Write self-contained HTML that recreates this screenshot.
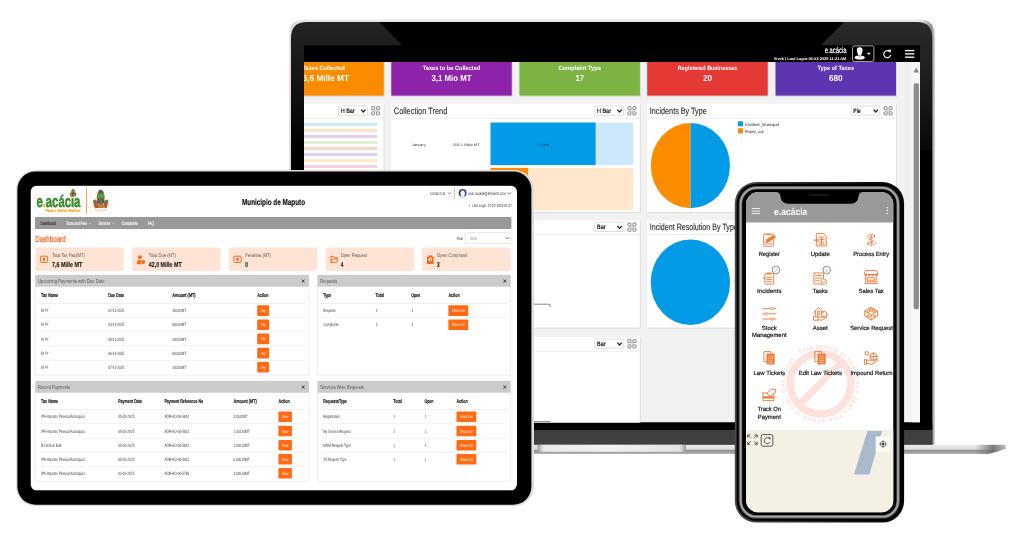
<!DOCTYPE html>
<html lang="en"><head><meta charset="utf-8"><title>e.acácia – devices</title>
<style>html,body{margin:0;padding:0;background:#fff;}body{width:1024px;height:536px;overflow:hidden;}svg{display:block;font-family:'Liberation Sans', sans-serif;text-rendering:geometricPrecision;}</style>
</head><body>
<svg width="1024" height="536" viewBox="0 0 1024 536">
<defs>
<linearGradient id="baseG" x1="0" y1="0" x2="0" y2="1"><stop offset="0" stop-color="#ededed"/><stop offset="0.5" stop-color="#dcdcdc"/><stop offset="0.56" stop-color="#8c8c8c"/><stop offset="1" stop-color="#b4b4b4"/></linearGradient>
<linearGradient id="baseEnd" x1="0" y1="0" x2="1" y2="0"><stop offset="0" stop-color="#6e6e6e" stop-opacity="0"/><stop offset="0.6" stop-color="#6e6e6e" stop-opacity="0.9"/><stop offset="1" stop-color="#9a9a9a" stop-opacity="0.6"/></linearGradient>
<linearGradient id="notchG" x1="0" y1="0" x2="1" y2="0"><stop offset="0" stop-color="#9c9c9c"/><stop offset="0.04" stop-color="#e9e9e9"/><stop offset="0.5" stop-color="#f3f3f3"/><stop offset="0.96" stop-color="#e2e2e2"/><stop offset="1" stop-color="#9c9c9c"/></linearGradient>
<linearGradient id="lidG" gradientUnits="userSpaceOnUse" x1="0" y1="22" x2="0" y2="445"><stop offset="0" stop-color="#232323"/><stop offset="0.06" stop-color="#1d1d1d"/><stop offset="0.2" stop-color="#0e0e0e"/><stop offset="0.3" stop-color="#000"/><stop offset="1" stop-color="#000"/></linearGradient><linearGradient id="rimG" gradientUnits="userSpaceOnUse" x1="289" y1="0" x2="935" y2="0"><stop offset="0" stop-color="#e9e9e9"/><stop offset="0.004" stop-color="#d6d6d6"/><stop offset="0.02" stop-color="#e6e6e6"/><stop offset="0.98" stop-color="#e6e6e6"/><stop offset="0.9945" stop-color="#8e8e8e"/><stop offset="1" stop-color="#d2d2d2"/></linearGradient>
<linearGradient id="phG" x1="0" y1="0" x2="1" y2="0"><stop offset="0" stop-color="#4a4a4a"/><stop offset="0.5" stop-color="#222"/><stop offset="1" stop-color="#050505"/></linearGradient>
<clipPath id="lapClip"><rect x="304" y="45" width="616" height="377.5"/></clipPath>
<clipPath id="tabClip"><rect x="30.5" y="185.6" width="486.5" height="305" rx="6.5"/></clipPath>
<clipPath id="phClip"><rect x="746" y="192" width="147.5" height="320.5" rx="12.5"/></clipPath>
</defs>
<g id="laptop">
<path d="M289 453 L289 36 Q289 19.6 305 19.6 L919 19.6 Q934.9 19.6 934.9 36 L934.9 445 L289 445Z" fill="url(#rimG)"/>
<path d="M291 445 L291 38 Q291 22 307 22 L917 22 Q932.3 22 932.3 38 L932.3 445Z" fill="url(#lidG)"/>
<path d="M379 22 L844 22 L821 45 L402 45Z" fill="#000"/>
<path d="M844 22 L917 22 Q932.3 22 932.3 38 L932.3 150 L920 150 L920 45 L821 45Z" fill="#fff" opacity="0.035"/>
<rect x="291.00" y="422.50" width="641.30" height="7.50" fill="#000"/>
<rect x="291.00" y="430.00" width="641.30" height="14.60" fill="#404040"/>
<path d="M218 444.8 L1003 444.8 Q1005.5 444.8 1005.5 447 L1005.5 449 L989 454 L222 454 Q218 454 218 450Z" fill="url(#baseG)"/>
<rect x="975.00" y="444.80" width="30.50" height="9.20" fill="url(#baseEnd)"/>
<path d="M989 454 L1005.5 449 L1005.5 455 L989 455Z" fill="#fff"/>
<path d="M537.5 444.8 L686 444.8 L686 449 Q686 451.8 682 451.8 L541.5 451.8 Q537.5 451.8 537.5 449Z" fill="url(#notchG)"/>
<g clip-path="url(#lapClip)">
<rect x="304.00" y="45.00" width="616.00" height="377.50" fill="#f1f1f1"/>
<rect x="304.00" y="45.00" width="616.00" height="17.00" fill="#000"/>
<rect x="263.85" y="62.00" width="120.80" height="34.80" fill="#d8d8d8"/>
<rect x="263.25" y="62.00" width="120.50" height="33.60" fill="#fb8c00"/>
<text x="323.50" y="69.90" font-size="6.1" fill="#fff" font-weight="bold" text-anchor="middle" textLength="42.50" lengthAdjust="spacingAndGlyphs">Taxes Collected</text>
<text x="323.50" y="80.73" font-size="8.7" fill="#fff" font-weight="bold" text-anchor="middle" textLength="51.00" lengthAdjust="spacingAndGlyphs">46,6 Mille MT</text>
<rect x="391.85" y="62.00" width="120.80" height="34.80" fill="#d8d8d8"/>
<rect x="391.25" y="62.00" width="120.50" height="33.60" fill="#8e24aa"/>
<text x="451.50" y="69.90" font-size="6.1" fill="#fff" font-weight="bold" text-anchor="middle" textLength="57.50" lengthAdjust="spacingAndGlyphs">Taxes to be Collected</text>
<text x="451.50" y="80.73" font-size="8.7" fill="#fff" font-weight="bold" text-anchor="middle" textLength="40.00" lengthAdjust="spacingAndGlyphs">3,1 Mio MT</text>
<rect x="520.00" y="62.00" width="120.80" height="34.80" fill="#d8d8d8"/>
<rect x="519.40" y="62.00" width="120.50" height="33.60" fill="#7cb342"/>
<text x="579.65" y="69.90" font-size="6.1" fill="#fff" font-weight="bold" text-anchor="middle" textLength="42.50" lengthAdjust="spacingAndGlyphs">Complaint Type</text>
<text x="579.65" y="80.73" font-size="8.7" fill="#fff" font-weight="bold" text-anchor="middle" textLength="8.50" lengthAdjust="spacingAndGlyphs">17</text>
<rect x="647.80" y="62.00" width="120.80" height="34.80" fill="#d8d8d8"/>
<rect x="647.20" y="62.00" width="120.50" height="33.60" fill="#e53935"/>
<text x="707.45" y="69.90" font-size="6.1" fill="#fff" font-weight="bold" text-anchor="middle" textLength="59.50" lengthAdjust="spacingAndGlyphs">Registered Businesses</text>
<text x="707.45" y="80.73" font-size="8.7" fill="#fff" font-weight="bold" text-anchor="middle" textLength="9.00" lengthAdjust="spacingAndGlyphs">20</text>
<rect x="776.10" y="62.00" width="120.80" height="34.80" fill="#d8d8d8"/>
<rect x="775.50" y="62.00" width="120.50" height="33.60" fill="#5e35b1"/>
<text x="835.75" y="69.90" font-size="6.1" fill="#fff" font-weight="bold" text-anchor="middle" textLength="36.50" lengthAdjust="spacingAndGlyphs">Type of Taxes</text>
<text x="835.75" y="80.73" font-size="8.7" fill="#fff" font-weight="bold" text-anchor="middle" textLength="13.50" lengthAdjust="spacingAndGlyphs">680</text>
<rect x="263.75" y="104.50" width="120.65" height="108.50" fill="#dcdcdc"/>
<rect x="263.25" y="104.00" width="120.25" height="108.00" fill="#fff"/>
<rect x="263.25" y="117.90" width="120.25" height="0.60" fill="#e3e3e3"/>
<rect x="338.50" y="105.90" width="29.00" height="9.30" fill="#fff" rx="0.8" stroke="#c9c9c9" stroke-width="0.6"/>
<text x="340.70" y="113.02" font-size="6.3" fill="#111" textLength="14.00" lengthAdjust="spacingAndGlyphs" stroke="#111" stroke-width="0.2">H Bar</text>
<path d="M361.10 109.65 L363.30 112.05 L365.50 109.65" fill="none" stroke="#222" stroke-width="1.3"/>
<path d="M374.60 109.70 L376.60 111.90 M376.60 109.70 L374.60 111.90" stroke="#b5b5b5" stroke-width="0.8" fill="none"/>
<rect x="371.60" y="106.70" width="3.0" height="3.0" rx="0.5" fill="none" stroke="#7a7a7a" stroke-width="0.95"/>
<rect x="376.60" y="106.70" width="3.0" height="3.0" rx="0.5" fill="none" stroke="#7a7a7a" stroke-width="0.95"/>
<rect x="371.60" y="111.90" width="3.0" height="3.0" rx="0.5" fill="none" stroke="#7a7a7a" stroke-width="0.95"/>
<rect x="376.60" y="111.90" width="3.0" height="3.0" rx="0.5" fill="none" stroke="#7a7a7a" stroke-width="0.95"/>
<rect x="391.75" y="104.50" width="248.95" height="108.50" fill="#dcdcdc"/>
<rect x="391.25" y="104.00" width="248.55" height="108.00" fill="#fff"/>
<rect x="391.25" y="117.90" width="248.55" height="0.60" fill="#e3e3e3"/>
<text x="393.85" y="114.11" font-size="9.2" fill="#2a2a2a" textLength="53.50" lengthAdjust="spacingAndGlyphs" stroke="#2a2a2a" stroke-width="0.12">Collection Trend</text>
<rect x="594.80" y="105.90" width="29.00" height="9.30" fill="#fff" rx="0.8" stroke="#c9c9c9" stroke-width="0.6"/>
<text x="597.00" y="113.02" font-size="6.3" fill="#111" textLength="14.00" lengthAdjust="spacingAndGlyphs" stroke="#111" stroke-width="0.2">H Bar</text>
<path d="M617.40 109.65 L619.60 112.05 L621.80 109.65" fill="none" stroke="#222" stroke-width="1.3"/>
<path d="M630.90 109.70 L632.90 111.90 M632.90 109.70 L630.90 111.90" stroke="#b5b5b5" stroke-width="0.8" fill="none"/>
<rect x="627.90" y="106.70" width="3.0" height="3.0" rx="0.5" fill="none" stroke="#7a7a7a" stroke-width="0.95"/>
<rect x="632.90" y="106.70" width="3.0" height="3.0" rx="0.5" fill="none" stroke="#7a7a7a" stroke-width="0.95"/>
<rect x="627.90" y="111.90" width="3.0" height="3.0" rx="0.5" fill="none" stroke="#7a7a7a" stroke-width="0.95"/>
<rect x="632.90" y="111.90" width="3.0" height="3.0" rx="0.5" fill="none" stroke="#7a7a7a" stroke-width="0.95"/>
<rect x="647.70" y="104.50" width="249.20" height="108.50" fill="#dcdcdc"/>
<rect x="647.20" y="104.00" width="248.80" height="108.00" fill="#fff"/>
<rect x="647.20" y="117.90" width="248.80" height="0.60" fill="#e3e3e3"/>
<text x="649.80" y="114.11" font-size="9.2" fill="#2a2a2a" textLength="57.00" lengthAdjust="spacingAndGlyphs" stroke="#2a2a2a" stroke-width="0.12">Incidents By Type</text>
<rect x="851.00" y="105.90" width="29.00" height="9.30" fill="#fff" rx="0.8" stroke="#c9c9c9" stroke-width="0.6"/>
<text x="853.20" y="113.02" font-size="6.3" fill="#111" textLength="7.50" lengthAdjust="spacingAndGlyphs" stroke="#111" stroke-width="0.2">Pie</text>
<path d="M873.60 109.65 L875.80 112.05 L878.00 109.65" fill="none" stroke="#222" stroke-width="1.3"/>
<path d="M887.10 109.70 L889.10 111.90 M889.10 109.70 L887.10 111.90" stroke="#b5b5b5" stroke-width="0.8" fill="none"/>
<rect x="884.10" y="106.70" width="3.0" height="3.0" rx="0.5" fill="none" stroke="#7a7a7a" stroke-width="0.95"/>
<rect x="889.10" y="106.70" width="3.0" height="3.0" rx="0.5" fill="none" stroke="#7a7a7a" stroke-width="0.95"/>
<rect x="884.10" y="111.90" width="3.0" height="3.0" rx="0.5" fill="none" stroke="#7a7a7a" stroke-width="0.95"/>
<rect x="889.10" y="111.90" width="3.0" height="3.0" rx="0.5" fill="none" stroke="#7a7a7a" stroke-width="0.95"/>
<rect x="263.75" y="220.80" width="120.65" height="107.80" fill="#dcdcdc"/>
<rect x="263.25" y="220.30" width="120.25" height="107.30" fill="#fff"/>
<rect x="263.25" y="234.20" width="120.25" height="0.60" fill="#e3e3e3"/>
<rect x="391.75" y="220.80" width="248.95" height="107.80" fill="#dcdcdc"/>
<rect x="391.25" y="220.30" width="248.55" height="107.30" fill="#fff"/>
<rect x="391.25" y="234.20" width="248.55" height="0.60" fill="#e3e3e3"/>
<rect x="594.80" y="222.20" width="29.00" height="9.30" fill="#fff" rx="0.8" stroke="#c9c9c9" stroke-width="0.6"/>
<text x="597.00" y="229.32" font-size="6.3" fill="#111" textLength="8.50" lengthAdjust="spacingAndGlyphs" stroke="#111" stroke-width="0.2">Bar</text>
<path d="M617.40 225.95 L619.60 228.35 L621.80 225.95" fill="none" stroke="#222" stroke-width="1.3"/>
<path d="M630.90 226.00 L632.90 228.20 M632.90 226.00 L630.90 228.20" stroke="#b5b5b5" stroke-width="0.8" fill="none"/>
<rect x="627.90" y="223.00" width="3.0" height="3.0" rx="0.5" fill="none" stroke="#7a7a7a" stroke-width="0.95"/>
<rect x="632.90" y="223.00" width="3.0" height="3.0" rx="0.5" fill="none" stroke="#7a7a7a" stroke-width="0.95"/>
<rect x="627.90" y="228.20" width="3.0" height="3.0" rx="0.5" fill="none" stroke="#7a7a7a" stroke-width="0.95"/>
<rect x="632.90" y="228.20" width="3.0" height="3.0" rx="0.5" fill="none" stroke="#7a7a7a" stroke-width="0.95"/>
<rect x="647.70" y="220.80" width="249.20" height="107.80" fill="#dcdcdc"/>
<rect x="647.20" y="220.30" width="248.80" height="107.30" fill="#fff"/>
<rect x="647.20" y="234.20" width="248.80" height="0.60" fill="#e3e3e3"/>
<text x="649.80" y="230.41" font-size="9.2" fill="#2a2a2a" textLength="88.00" lengthAdjust="spacingAndGlyphs" stroke="#2a2a2a" stroke-width="0.12">Incident Resolution By Type</text>
<rect x="391.75" y="337.50" width="248.95" height="103.50" fill="#dcdcdc"/>
<rect x="391.25" y="337.00" width="248.55" height="103.00" fill="#fff"/>
<rect x="391.25" y="350.90" width="248.55" height="0.60" fill="#e3e3e3"/>
<rect x="594.80" y="338.90" width="29.00" height="9.30" fill="#fff" rx="0.8" stroke="#c9c9c9" stroke-width="0.6"/>
<text x="597.00" y="346.02" font-size="6.3" fill="#111" textLength="8.50" lengthAdjust="spacingAndGlyphs" stroke="#111" stroke-width="0.2">Bar</text>
<path d="M617.40 342.65 L619.60 345.05 L621.80 342.65" fill="none" stroke="#222" stroke-width="1.3"/>
<path d="M630.90 342.70 L632.90 344.90 M632.90 342.70 L630.90 344.90" stroke="#b5b5b5" stroke-width="0.8" fill="none"/>
<rect x="627.90" y="339.70" width="3.0" height="3.0" rx="0.5" fill="none" stroke="#7a7a7a" stroke-width="0.95"/>
<rect x="632.90" y="339.70" width="3.0" height="3.0" rx="0.5" fill="none" stroke="#7a7a7a" stroke-width="0.95"/>
<rect x="627.90" y="344.90" width="3.0" height="3.0" rx="0.5" fill="none" stroke="#7a7a7a" stroke-width="0.95"/>
<rect x="632.90" y="344.90" width="3.0" height="3.0" rx="0.5" fill="none" stroke="#7a7a7a" stroke-width="0.95"/>
<rect x="300.00" y="122.80" width="77.30" height="3.10" fill="#cce9fb"/>
<rect x="300.00" y="128.83" width="77.30" height="3.10" fill="#ffe3c8"/>
<rect x="300.00" y="134.86" width="77.30" height="3.10" fill="#e5d2ef"/>
<rect x="300.00" y="140.89" width="77.30" height="3.10" fill="#e1edd6"/>
<rect x="300.00" y="146.92" width="77.30" height="3.10" fill="#f8d6cc"/>
<rect x="300.00" y="152.95" width="77.30" height="3.10" fill="#dccdee"/>
<rect x="300.00" y="158.98" width="77.30" height="3.10" fill="#ffecc6"/>
<rect x="300.00" y="165.01" width="77.30" height="3.10" fill="#f8d3da"/>
<rect x="300.00" y="171.04" width="77.30" height="3.10" fill="#d5ecf3"/>
<text x="418.80" y="145.60" font-size="3.6" fill="#333" text-anchor="middle" textLength="13.50" lengthAdjust="spacingAndGlyphs">January</text>
<text x="466.30" y="145.60" font-size="3.6" fill="#333" text-anchor="middle" textLength="27.00" lengthAdjust="spacingAndGlyphs">258,1 Mille MT</text>
<rect x="490.50" y="122.50" width="105.30" height="42.60" fill="#039be5"/>
<rect x="595.80" y="122.50" width="37.60" height="42.60" fill="#cce9fb"/>
<text x="543.00" y="145.60" font-size="3.6" fill="#1a3a5a" text-anchor="middle" textLength="12.50" lengthAdjust="spacingAndGlyphs">71,48%</text>
<rect x="490.50" y="167.90" width="37.50" height="42.30" fill="#fb8c00"/>
<rect x="528.00" y="167.90" width="105.40" height="42.30" fill="#ffe6cc"/>
<path d="M690.4 123 A39.6 42.6 0 0 1 690.4 208.2Z" fill="#039be5"/>
<path d="M690.4 123 A39.6 42.6 0 0 0 690.4 208.2Z" fill="#fb8c00"/>
<rect x="738.00" y="121.30" width="5.00" height="5.00" fill="#039be5"/>
<text x="745.00" y="125.51" font-size="4.2" fill="#222" textLength="33.70" lengthAdjust="spacingAndGlyphs">Incidnet_Muncipal</text>
<rect x="738.00" y="128.30" width="5.00" height="5.10" fill="#fb8c00"/>
<text x="745.00" y="132.51" font-size="4.2" fill="#222" textLength="18.70" lengthAdjust="spacingAndGlyphs">Power_out</text>
<ellipse cx="690.4" cy="282.3" rx="39.7" ry="42.8" fill="#039be5"/>
<path d="M520 304.2 L550 304.2 L550 307" fill="none" stroke="#555" stroke-width="0.7"/>
<path d="M520 421.6 L550 421.6 L550 423" fill="none" stroke="#555" stroke-width="0.7"/>
<rect x="911.50" y="62.00" width="8.50" height="360.50" fill="#f7f7f7"/>
<path d="M913.3 72.6 L916.2 67.6 L919.1 72.6Z" fill="#8a8a8a"/>
<rect x="913.60" y="83.00" width="5.40" height="226.40" fill="#8e8e8e" rx="2.7"/>
<text x="846.50" y="53.35" font-size="8.2" fill="#fff" text-anchor="end" textLength="21.80" lengthAdjust="spacingAndGlyphs" stroke="#fff" stroke-width="0.18">e.acácia</text>
<text x="846.40" y="59.70" font-size="3.9" fill="#fff" font-weight="bold" text-anchor="end" textLength="72.60" lengthAdjust="spacingAndGlyphs">Vivek | Last Login-06-02-2025 11:21 AM</text>
<rect x="852.50" y="45.90" width="21.40" height="15.60" fill="#000" rx="1.6" stroke="#b4b4b4" stroke-width="0.9"/>
<g fill="#fff"><path d="M859.7 47.2 Q862.8 47.2 862.6 50.6 Q862.4 53.2 860.9 55.2 L860.6 56.4 L858.8 56.4 L858.5 55.2 Q857 53.2 856.8 50.6 Q856.6 47.2 859.7 47.2Z"/><ellipse cx="859.7" cy="57.5" rx="5.1" ry="2"/><path d="M859.7 55 L860.5 55.8 L859.7 57.6 L858.9 55.8Z" fill="#000" opacity="0.55"/><path d="M866.9 52.8 L870.8 52.8 L868.85 55Z"/></g>
<path d="M889.4 51.4 A3.5 3.5 0 1 0 890.7 54.9" fill="none" stroke="#fff" stroke-width="1.15"/><path d="M887.6 49.9 L891 49.6 L890.4 53Z" fill="#fff"/>
<rect x="905.00" y="49.95" width="9.40" height="1.30" fill="#fff"/>
<rect x="905.00" y="53.25" width="9.40" height="1.30" fill="#fff"/>
<rect x="905.00" y="56.55" width="9.40" height="1.30" fill="#fff"/>
</g>
</g>
<g id="tablet">
<rect x="16.00" y="170.00" width="518.00" height="336.30" fill="#dedede" rx="20"/>
<rect x="17.40" y="171.50" width="514.00" height="333.20" fill="#000" rx="18"/>
<g clip-path="url(#tabClip)">
<rect x="30.50" y="185.60" width="486.50" height="305.00" fill="#fff"/>
<rect x="35.60" y="187.80" width="46.00" height="26.00" fill="#fff" rx="0.8" stroke="#e6e6e6" stroke-width="0.5"/>
<text x="36.40" y="207.28" font-size="16.6" fill="#3c8a2e" font-weight="bold" textLength="6.40" lengthAdjust="spacingAndGlyphs" stroke="#3c8a2e" stroke-width="0.55">e</text>
<text x="42.90" y="207.28" font-size="16.6" fill="#f39c12" font-weight="bold" textLength="2.40" lengthAdjust="spacingAndGlyphs" stroke="#f39c12" stroke-width="0.5">.</text>
<text x="45.80" y="207.28" font-size="16.6" fill="#3c8a2e" font-weight="bold" textLength="34.60" lengthAdjust="spacingAndGlyphs" stroke="#3c8a2e" stroke-width="0.55">acácia</text>
<text x="45.40" y="212.08" font-size="4.4" fill="#f39c12" font-weight="bold" textLength="35.00" lengthAdjust="spacingAndGlyphs" stroke="#f39c12" stroke-width="0.15">Para o Servir Melhor</text>
<g><ellipse cx="73.1" cy="192.4" rx="1.9" ry="3.3" fill="#9a6236"/><ellipse cx="73.1" cy="191.4" rx="1.3" ry="1.1" fill="#4aa63c"/><ellipse cx="73.1" cy="193.6" rx="1.2" ry="0.9" fill="#35506e"/><path d="M69.6 193.4 L71.4 192.6 L72 196.8 L70.4 196.4Z M76.6 193.4 L74.8 192.6 L74.2 196.8 L75.8 196.4Z" fill="#b0622a"/><path d="M69.6 193.4 L70.6 192.2 L71.2 193.4Z M76.6 193.4 L75.6 192.2 L75 193.4Z" fill="#4aa63c"/><path d="M70.6 196.6 Q73.1 198.2 75.6 196.6 L75.4 197.4 Q73.1 198.6 70.8 197.4Z" fill="#ecd6c4"/></g>
<rect x="86.00" y="187.20" width="1.00" height="27.00" fill="#f5a94a"/>
<rect x="90.60" y="187.80" width="20.40" height="26.00" fill="#fff" rx="0.8" stroke="#e6e6e6" stroke-width="0.5"/>
<g>
<ellipse cx="100.7" cy="197.6" rx="4" ry="8.2" fill="#a3703f"/>
<ellipse cx="100.7" cy="197.6" rx="3.1" ry="7.2" fill="#8a5a34"/>
<ellipse cx="100.7" cy="191.8" rx="1.5" ry="1.2" fill="#2f5b8c"/>
<path d="M97.8 194.6 Q100.7 192.6 103.6 194.6 L103.8 197.6 Q100.7 198.8 97.6 197.6Z" fill="#46a64a"/>
<path d="M97.7 199.4 L103.7 199.4 L103.9 203 L97.5 203Z" fill="#2d5a94"/>
<path d="M99.6 199.4 L101.8 199.4 L101.8 204.6 L99.6 204.6Z" fill="#9a6a3a"/>
<path d="M92.8 201 L95 199.4 L97.6 201.4 L98.4 207.8 L94.8 208.2Z" fill="#a8612c"/>
<path d="M108.6 201 L106.4 199.4 L103.8 201.4 L103 207.8 L106.6 208.2Z" fill="#a8612c"/>
<path d="M93.2 200.8 L95 199.4 L96.8 200.8 L95.4 202.6Z M108.2 200.8 L106.4 199.4 L104.6 200.8 L106 202.6Z" fill="#3f9a46"/>
<path d="M98.2 204.4 L103.2 204.4 L103.6 208 L97.8 208Z" fill="#b87a48"/>
<circle cx="97.3" cy="207.4" r="0.8" fill="#e0392b"/><circle cx="104.1" cy="207.4" r="0.8" fill="#e0a23a"/>
<circle cx="92.9" cy="206" r="0.8" fill="#b9bcc4"/><circle cx="108.6" cy="206" r="0.8" fill="#b9bcc4"/>
<path d="M94 208.6 Q100.7 210.4 107.4 208.6 L107 210.8 Q100.7 212.8 94.4 210.8Z" fill="#f4dfd0"/>
</g>
<text x="273.50" y="205.40" font-size="8.6" fill="#111" font-weight="bold" text-anchor="middle" textLength="63.00" lengthAdjust="spacingAndGlyphs" stroke="#111" stroke-width="0.2">Municipio de Maputo</text>
<text x="430.20" y="194.89" font-size="4.7" fill="#333" textLength="15.00" lengthAdjust="spacingAndGlyphs">Contact Us</text>
<path d="M448 192.4 L449.3 193.9 L450.6 192.4" fill="none" stroke="#333" stroke-width="0.6"/>
<rect x="454.10" y="187.20" width="0.70" height="11.40" fill="#f5a94a"/>
<circle cx="462.6" cy="193" r="4" fill="#2c4a7c"/><ellipse cx="462.7" cy="193.6" rx="2.2" ry="3.1" fill="#f3f5f8"/><path d="M459.6 197 Q462.6 194.6 465.6 197 L465.6 198 L459.6 198Z" fill="#dfe5ee"/>
<text x="468.00" y="194.86" font-size="4.6" fill="#333" textLength="37.60" lengthAdjust="spacingAndGlyphs">arun.dudule@effiasoft.com</text>
<path d="M507.8 192.4 L509.3 194 L510.8 192.4" fill="none" stroke="#333" stroke-width="0.7"/>
<circle cx="469.6" cy="205.6" r="0.55" fill="#e53935"/>
<text x="472.00" y="207.12" font-size="4.5" fill="#333" textLength="40.00" lengthAdjust="spacingAndGlyphs">Last Login: 07-02-2025 01:37</text>
<rect x="35.00" y="216.90" width="476.40" height="12.20" fill="#999" rx="1.2"/>
<text x="40.50" y="224.86" font-size="4.9" fill="#222" textLength="15.40" lengthAdjust="spacingAndGlyphs" stroke="#222" stroke-width="0.12">Dashboard</text>
<text x="66.00" y="224.86" font-size="4.9" fill="#fff" textLength="21.00" lengthAdjust="spacingAndGlyphs" stroke="#fff" stroke-width="0.14">Taxes and Fees</text>
<path d="M89 222.8 L90 223.9 L91 222.8" fill="none" stroke="#fff" stroke-width="0.45"/>
<text x="98.60" y="224.86" font-size="4.9" fill="#fff" textLength="11.60" lengthAdjust="spacingAndGlyphs" stroke="#fff" stroke-width="0.14">Services</text>
<path d="M112.4 222.8 L113.4 223.9 L114.4 222.8" fill="none" stroke="#fff" stroke-width="0.45"/>
<text x="121.80" y="224.86" font-size="4.9" fill="#fff" textLength="16.20" lengthAdjust="spacingAndGlyphs" stroke="#fff" stroke-width="0.14">Complaints</text>
<text x="147.80" y="224.86" font-size="4.9" fill="#fff" textLength="6.20" lengthAdjust="spacingAndGlyphs" stroke="#fff" stroke-width="0.14">FAQ</text>
<text x="35.30" y="242.37" font-size="8.8" fill="#f26522" textLength="30.30" lengthAdjust="spacingAndGlyphs" stroke="#f26522" stroke-width="0.25">Dashboard</text>
<text x="456.50" y="240.13" font-size="4.8" fill="#333" textLength="6.60" lengthAdjust="spacingAndGlyphs">Year</text>
<rect x="465.30" y="232.40" width="45.30" height="11.20" fill="#fff" rx="1" stroke="#d6d6d6" stroke-width="0.6"/>
<text x="469.80" y="239.98" font-size="4.4" fill="#888" textLength="6.80" lengthAdjust="spacingAndGlyphs">2025</text>
<path d="M505.8 237.4 L507.2 239 L508.6 237.4" fill="none" stroke="#333" stroke-width="0.7"/>
<rect x="35.25" y="247.40" width="88.60" height="23.70" fill="#ffe4d6" rx="2.6"/>
<rect x="40.45" y="256.2" width="7.2" height="6.2" rx="0.8" fill="none" stroke="#f26a1b" stroke-width="1"/><ellipse cx="44.05" cy="259.3" rx="1.3" ry="1.7" fill="#f26a1b"/>
<text x="52.00" y="256.61" font-size="5.3" fill="#555" textLength="32.90" lengthAdjust="spacingAndGlyphs">Total Tax Paid(MT)</text>
<text x="52.00" y="266.69" font-size="7.2" fill="#1a1a1a" font-weight="bold" textLength="30.40" lengthAdjust="spacingAndGlyphs" stroke="#1a1a1a" stroke-width="0.15">7,6 Mille MT</text>
<rect x="132.00" y="247.40" width="88.60" height="23.70" fill="#ffe4d6" rx="2.6"/>
<circle cx="140.00" cy="257.2" r="1.9" fill="#f26a1b"/><path d="M136.80 264.2 Q136.80 259.8 140.00 259.8 Q142.00 259.8 142.60 261 L142.60 264.2Z" fill="#f26a1b"/><circle cx="143.20" cy="262" r="2.5" fill="#ffe4d6"/><circle cx="143.20" cy="262" r="2" fill="#f26a1b"/>
<text x="148.75" y="256.61" font-size="5.3" fill="#555" textLength="27.00" lengthAdjust="spacingAndGlyphs">Total Due (MT)</text>
<text x="148.75" y="266.69" font-size="7.2" fill="#1a1a1a" font-weight="bold" textLength="32.90" lengthAdjust="spacingAndGlyphs" stroke="#1a1a1a" stroke-width="0.15">42,0 Mille MT</text>
<rect x="228.75" y="247.40" width="88.60" height="23.70" fill="#ffe4d6" rx="2.6"/>
<rect x="233.95" y="256.2" width="7.2" height="6.2" rx="0.8" fill="none" stroke="#f26a1b" stroke-width="1"/><ellipse cx="237.55" cy="259.3" rx="1.3" ry="1.7" fill="#f26a1b"/>
<text x="245.35" y="256.61" font-size="5.3" fill="#555" textLength="25.60" lengthAdjust="spacingAndGlyphs">Penalties (MT)</text>
<text x="245.35" y="266.69" font-size="7.2" fill="#1a1a1a" font-weight="bold" textLength="2.60" lengthAdjust="spacingAndGlyphs" stroke="#1a1a1a" stroke-width="0.15">0</text>
<rect x="325.50" y="247.40" width="88.60" height="23.70" fill="#ffe4d6" rx="2.6"/>
<path d="M330.90 256.4 L333.50 256.4 L334.50 257.6 L337.10 257.6 L337.10 258.8 M330.90 256.4 L330.90 262.6 L336.50 262.6 L338.10 258.9 L332.50 258.9 L331.00 262.4" fill="none" stroke="#f26a1b" stroke-width="0.9" stroke-linejoin="round"/>
<text x="340.70" y="256.61" font-size="5.3" fill="#555" textLength="26.20" lengthAdjust="spacingAndGlyphs">Open Request</text>
<text x="340.70" y="266.69" font-size="7.2" fill="#1a1a1a" font-weight="bold" textLength="2.60" lengthAdjust="spacingAndGlyphs" stroke="#1a1a1a" stroke-width="0.15">4</text>
<rect x="422.10" y="247.40" width="88.60" height="23.70" fill="#ffe4d6" rx="2.6"/>
<path d="M427.00 256.4 L428.70 256.4 L429.00 255.2 L431.60 255.2 L431.90 256.4 L433.60 256.4 L433.60 264 L427.00 264Z" fill="#f26a1b"/><circle cx="430.30" cy="259.4" r="1.8" fill="#ffe4d6"/><circle cx="430.30" cy="259.2" r="0.8" fill="#f26a1b"/>
<text x="437.00" y="256.61" font-size="5.3" fill="#555" textLength="30.20" lengthAdjust="spacingAndGlyphs">Open Complaint</text>
<text x="437.00" y="266.69" font-size="7.2" fill="#1a1a1a" font-weight="bold" textLength="2.60" lengthAdjust="spacingAndGlyphs" stroke="#1a1a1a" stroke-width="0.15">3</text>
<rect x="35.25" y="275.10" width="273.75" height="100.10" fill="#fff" rx="1" stroke="#e2e2e2" stroke-width="0.6"/>
<path d="M35.25 286.8 L35.25 276.1 Q35.25 275.1 36.25 275.1 L308 275.1 Q309 275.1 309 276.1 L309 286.8Z" fill="#cbcbcb"/>
<text x="38.05" y="283.15" font-size="5.7" fill="#555" textLength="66.50" lengthAdjust="spacingAndGlyphs">Upcoming Payments with Due Date</text>
<path d="M301.90 279.60 L304.50 282.60 M304.50 279.60 L301.90 282.60" stroke="#2a2a2a" stroke-width="0.85"/>
<text x="41.10" y="297.34" font-size="5.4" fill="#222" font-weight="bold" textLength="17.00" lengthAdjust="spacingAndGlyphs" stroke="#222" stroke-width="0.18">Tax Name</text>
<text x="108.20" y="297.34" font-size="5.4" fill="#222" font-weight="bold" textLength="15.80" lengthAdjust="spacingAndGlyphs" stroke="#222" stroke-width="0.18">Due Date</text>
<text x="172.30" y="297.34" font-size="5.4" fill="#222" font-weight="bold" textLength="23.30" lengthAdjust="spacingAndGlyphs" stroke="#222" stroke-width="0.18">Amount (MT)</text>
<text x="257.20" y="297.34" font-size="5.4" fill="#222" font-weight="bold" textLength="11.20" lengthAdjust="spacingAndGlyphs" stroke="#222" stroke-width="0.18">Action</text>
<rect x="38.40" y="302.95" width="267.60" height="0.50" fill="#dcdcdc"/>
<text x="41.10" y="312.29" font-size="4.7" fill="#3a3a3a" textLength="7.40" lengthAdjust="spacingAndGlyphs">BY FY</text>
<text x="108.20" y="312.29" font-size="4.7" fill="#3a3a3a" textLength="16.20" lengthAdjust="spacingAndGlyphs">02-11-2025</text>
<text x="172.30" y="312.29" font-size="4.7" fill="#3a3a3a" textLength="14.00" lengthAdjust="spacingAndGlyphs">400,00MT</text>
<rect x="257.20" y="305.30" width="11.90" height="10.60" fill="#ff6a13" rx="0.9"/>
<text x="263.15" y="312.18" font-size="4.4" fill="#fff" text-anchor="middle" textLength="4.60" lengthAdjust="spacingAndGlyphs">Pay</text>
<rect x="38.40" y="317.40" width="267.60" height="0.50" fill="#e4e4e4"/>
<text x="41.10" y="326.49" font-size="4.7" fill="#3a3a3a" textLength="7.40" lengthAdjust="spacingAndGlyphs">BY FY</text>
<text x="108.20" y="326.49" font-size="4.7" fill="#3a3a3a" textLength="16.20" lengthAdjust="spacingAndGlyphs">03-11-2025</text>
<text x="172.30" y="326.49" font-size="4.7" fill="#3a3a3a" textLength="14.00" lengthAdjust="spacingAndGlyphs">600,00MT</text>
<rect x="257.20" y="319.50" width="11.90" height="10.60" fill="#ff6a13" rx="0.9"/>
<text x="263.15" y="326.38" font-size="4.4" fill="#fff" text-anchor="middle" textLength="4.60" lengthAdjust="spacingAndGlyphs">Pay</text>
<rect x="38.40" y="331.60" width="267.60" height="0.50" fill="#e4e4e4"/>
<text x="41.10" y="340.59" font-size="4.7" fill="#3a3a3a" textLength="7.40" lengthAdjust="spacingAndGlyphs">BY FY</text>
<text x="108.20" y="340.59" font-size="4.7" fill="#3a3a3a" textLength="16.20" lengthAdjust="spacingAndGlyphs">05-11-2025</text>
<text x="172.30" y="340.59" font-size="4.7" fill="#3a3a3a" textLength="14.00" lengthAdjust="spacingAndGlyphs">400,00MT</text>
<rect x="257.20" y="333.60" width="11.90" height="10.60" fill="#ff6a13" rx="0.9"/>
<text x="263.15" y="340.48" font-size="4.4" fill="#fff" text-anchor="middle" textLength="4.60" lengthAdjust="spacingAndGlyphs">Pay</text>
<rect x="38.40" y="345.70" width="267.60" height="0.50" fill="#e4e4e4"/>
<text x="41.10" y="354.79" font-size="4.7" fill="#3a3a3a" textLength="7.40" lengthAdjust="spacingAndGlyphs">BY FY</text>
<text x="108.20" y="354.79" font-size="4.7" fill="#3a3a3a" textLength="16.20" lengthAdjust="spacingAndGlyphs">06-11-2025</text>
<text x="172.30" y="354.79" font-size="4.7" fill="#3a3a3a" textLength="14.00" lengthAdjust="spacingAndGlyphs">600,00MT</text>
<rect x="257.20" y="347.80" width="11.90" height="10.60" fill="#ff6a13" rx="0.9"/>
<text x="263.15" y="354.68" font-size="4.4" fill="#fff" text-anchor="middle" textLength="4.60" lengthAdjust="spacingAndGlyphs">Pay</text>
<rect x="38.40" y="359.90" width="267.60" height="0.50" fill="#e4e4e4"/>
<text x="41.10" y="368.89" font-size="4.7" fill="#3a3a3a" textLength="7.40" lengthAdjust="spacingAndGlyphs">BY FY</text>
<text x="108.20" y="368.89" font-size="4.7" fill="#3a3a3a" textLength="16.20" lengthAdjust="spacingAndGlyphs">07-11-2025</text>
<text x="172.30" y="368.89" font-size="4.7" fill="#3a3a3a" textLength="14.00" lengthAdjust="spacingAndGlyphs">400,00MT</text>
<rect x="257.20" y="361.90" width="11.90" height="10.60" fill="#ff6a13" rx="0.9"/>
<text x="263.15" y="368.78" font-size="4.4" fill="#fff" text-anchor="middle" textLength="4.60" lengthAdjust="spacingAndGlyphs">Pay</text>
<rect x="35.25" y="381.10" width="273.75" height="100.10" fill="#fff" rx="1" stroke="#e2e2e2" stroke-width="0.6"/>
<path d="M35.25 392.8 L35.25 382.1 Q35.25 381.1 36.25 381.1 L308 381.1 Q309 381.1 309 382.1 L309 392.8Z" fill="#cbcbcb"/>
<text x="38.05" y="389.15" font-size="5.7" fill="#555" textLength="32.00" lengthAdjust="spacingAndGlyphs">Recent Payments</text>
<path d="M301.90 385.60 L304.50 388.60 M304.50 385.60 L301.90 388.60" stroke="#2a2a2a" stroke-width="0.85"/>
<text x="41.10" y="403.44" font-size="5.4" fill="#222" font-weight="bold" textLength="17.00" lengthAdjust="spacingAndGlyphs" stroke="#222" stroke-width="0.18">Tax Name</text>
<text x="118.20" y="403.44" font-size="5.4" fill="#222" font-weight="bold" textLength="23.80" lengthAdjust="spacingAndGlyphs" stroke="#222" stroke-width="0.18">Payment Date</text>
<text x="164.40" y="403.44" font-size="5.4" fill="#222" font-weight="bold" textLength="38.80" lengthAdjust="spacingAndGlyphs" stroke="#222" stroke-width="0.18">Payment Reference No</text>
<text x="233.50" y="403.44" font-size="5.4" fill="#222" font-weight="bold" textLength="23.30" lengthAdjust="spacingAndGlyphs" stroke="#222" stroke-width="0.18">Amount (MT)</text>
<text x="278.40" y="403.44" font-size="5.4" fill="#222" font-weight="bold" textLength="11.20" lengthAdjust="spacingAndGlyphs" stroke="#222" stroke-width="0.18">Action</text>
<rect x="38.40" y="409.25" width="267.60" height="0.50" fill="#dcdcdc"/>
<text x="41.10" y="418.39" font-size="4.7" fill="#3a3a3a" textLength="44.00" lengthAdjust="spacingAndGlyphs">IPA-Imposto Pessoal Autárquico</text>
<text x="118.20" y="418.39" font-size="4.7" fill="#3a3a3a" textLength="16.20" lengthAdjust="spacingAndGlyphs">05-02-2025</text>
<text x="164.40" y="418.39" font-size="4.7" fill="#3a3a3a" textLength="24.80" lengthAdjust="spacingAndGlyphs">ADR-HO-00-5814</text>
<text x="233.50" y="418.39" font-size="4.7" fill="#3a3a3a" textLength="14.00" lengthAdjust="spacingAndGlyphs">510,00MT</text>
<rect x="278.40" y="411.40" width="13.50" height="10.60" fill="#ff6a13" rx="0.9"/>
<text x="285.15" y="418.28" font-size="4.4" fill="#fff" text-anchor="middle" textLength="6.20" lengthAdjust="spacingAndGlyphs">View</text>
<rect x="38.40" y="423.55" width="267.60" height="0.50" fill="#e4e4e4"/>
<text x="41.10" y="432.69" font-size="4.7" fill="#3a3a3a" textLength="44.00" lengthAdjust="spacingAndGlyphs">IPA-Imposto Pessoal Autárquico</text>
<text x="118.20" y="432.69" font-size="4.7" fill="#3a3a3a" textLength="16.20" lengthAdjust="spacingAndGlyphs">05-02-2025</text>
<text x="164.40" y="432.69" font-size="4.7" fill="#3a3a3a" textLength="24.80" lengthAdjust="spacingAndGlyphs">ADR-HO-00-5813</text>
<text x="233.50" y="432.69" font-size="4.7" fill="#3a3a3a" textLength="16.20" lengthAdjust="spacingAndGlyphs">1.020,00MT</text>
<rect x="278.40" y="425.70" width="13.50" height="10.60" fill="#ff6a13" rx="0.9"/>
<text x="285.15" y="432.58" font-size="4.4" fill="#fff" text-anchor="middle" textLength="6.20" lengthAdjust="spacingAndGlyphs">View</text>
<rect x="38.40" y="437.85" width="267.60" height="0.50" fill="#e4e4e4"/>
<text x="41.10" y="446.89" font-size="4.7" fill="#3a3a3a" textLength="20.40" lengthAdjust="spacingAndGlyphs">RJ Vehicle Bulk</text>
<text x="118.20" y="446.89" font-size="4.7" fill="#3a3a3a" textLength="16.20" lengthAdjust="spacingAndGlyphs">05-02-2025</text>
<text x="164.40" y="446.89" font-size="4.7" fill="#3a3a3a" textLength="24.80" lengthAdjust="spacingAndGlyphs">ADR-HO-00-5812</text>
<text x="233.50" y="446.89" font-size="4.7" fill="#3a3a3a" textLength="16.20" lengthAdjust="spacingAndGlyphs">1.000,00MT</text>
<rect x="278.40" y="439.90" width="13.50" height="10.60" fill="#ff6a13" rx="0.9"/>
<text x="285.15" y="446.78" font-size="4.4" fill="#fff" text-anchor="middle" textLength="6.20" lengthAdjust="spacingAndGlyphs">View</text>
<rect x="38.40" y="452.05" width="267.60" height="0.50" fill="#e4e4e4"/>
<text x="41.10" y="460.99" font-size="4.7" fill="#3a3a3a" textLength="44.00" lengthAdjust="spacingAndGlyphs">IPA-Imposto Pessoal Autárquico</text>
<text x="118.20" y="460.99" font-size="4.7" fill="#3a3a3a" textLength="16.20" lengthAdjust="spacingAndGlyphs">05-02-2025</text>
<text x="164.40" y="460.99" font-size="4.7" fill="#3a3a3a" textLength="24.80" lengthAdjust="spacingAndGlyphs">ADR-HO-00-5811</text>
<text x="233.50" y="460.99" font-size="4.7" fill="#3a3a3a" textLength="16.20" lengthAdjust="spacingAndGlyphs">6.000,00MT</text>
<rect x="278.40" y="454.00" width="13.50" height="10.60" fill="#ff6a13" rx="0.9"/>
<text x="285.15" y="460.88" font-size="4.4" fill="#fff" text-anchor="middle" textLength="6.20" lengthAdjust="spacingAndGlyphs">View</text>
<rect x="38.40" y="466.15" width="267.60" height="0.50" fill="#e4e4e4"/>
<text x="41.10" y="474.99" font-size="4.7" fill="#3a3a3a" textLength="44.00" lengthAdjust="spacingAndGlyphs">IPA-Imposto Pessoal Autárquico</text>
<text x="118.20" y="474.99" font-size="4.7" fill="#3a3a3a" textLength="16.20" lengthAdjust="spacingAndGlyphs">04-02-2025</text>
<text x="164.40" y="474.99" font-size="4.7" fill="#3a3a3a" textLength="24.80" lengthAdjust="spacingAndGlyphs">ADR-HO-00-5785</text>
<text x="233.50" y="474.99" font-size="4.7" fill="#3a3a3a" textLength="16.20" lengthAdjust="spacingAndGlyphs">3.000,00MT</text>
<rect x="278.40" y="468.00" width="13.50" height="10.60" fill="#ff6a13" rx="0.9"/>
<text x="285.15" y="474.88" font-size="4.4" fill="#fff" text-anchor="middle" textLength="6.20" lengthAdjust="spacingAndGlyphs">View</text>
<rect x="317.50" y="275.10" width="193.10" height="100.10" fill="#fff" rx="1" stroke="#e2e2e2" stroke-width="0.6"/>
<path d="M317.5 286.8 L317.5 276.1 Q317.5 275.1 318.5 275.1 L509.6 275.1 Q510.6 275.1 510.6 276.1 L510.6 286.8Z" fill="#cbcbcb"/>
<text x="320.30" y="283.15" font-size="5.7" fill="#555" textLength="17.00" lengthAdjust="spacingAndGlyphs">Requests</text>
<path d="M503.50 279.60 L506.10 282.60 M506.10 279.60 L503.50 282.60" stroke="#2a2a2a" stroke-width="0.85"/>
<text x="323.30" y="297.34" font-size="5.4" fill="#222" font-weight="bold" textLength="8.00" lengthAdjust="spacingAndGlyphs" stroke="#222" stroke-width="0.18">Type</text>
<text x="375.50" y="297.34" font-size="5.4" fill="#222" font-weight="bold" textLength="8.60" lengthAdjust="spacingAndGlyphs" stroke="#222" stroke-width="0.18">Total</text>
<text x="411.20" y="297.34" font-size="5.4" fill="#222" font-weight="bold" textLength="9.00" lengthAdjust="spacingAndGlyphs" stroke="#222" stroke-width="0.18">Open</text>
<text x="448.40" y="297.34" font-size="5.4" fill="#222" font-weight="bold" textLength="11.20" lengthAdjust="spacingAndGlyphs" stroke="#222" stroke-width="0.18">Action</text>
<rect x="320.60" y="302.95" width="187.00" height="0.50" fill="#dcdcdc"/>
<text x="323.30" y="312.29" font-size="4.7" fill="#3a3a3a" textLength="12.40" lengthAdjust="spacingAndGlyphs">Requests</text>
<text x="375.80" y="312.29" font-size="4.7" fill="#3a3a3a" textLength="1.70" lengthAdjust="spacingAndGlyphs">4</text>
<text x="411.40" y="312.29" font-size="4.7" fill="#3a3a3a" textLength="1.70" lengthAdjust="spacingAndGlyphs">4</text>
<rect x="448.40" y="305.30" width="19.80" height="10.60" fill="#ff6a13" rx="0.9"/>
<text x="458.30" y="312.18" font-size="4.4" fill="#fff" text-anchor="middle" textLength="12.60" lengthAdjust="spacingAndGlyphs">Show List</text>
<rect x="320.60" y="317.40" width="187.00" height="0.50" fill="#e4e4e4"/>
<text x="323.30" y="326.49" font-size="4.7" fill="#3a3a3a" textLength="15.60" lengthAdjust="spacingAndGlyphs">Complaints</text>
<text x="375.80" y="326.49" font-size="4.7" fill="#3a3a3a" textLength="1.70" lengthAdjust="spacingAndGlyphs">3</text>
<text x="411.40" y="326.49" font-size="4.7" fill="#3a3a3a" textLength="1.70" lengthAdjust="spacingAndGlyphs">3</text>
<rect x="448.40" y="319.50" width="19.80" height="10.60" fill="#ff6a13" rx="0.9"/>
<text x="458.30" y="326.38" font-size="4.4" fill="#fff" text-anchor="middle" textLength="12.60" lengthAdjust="spacingAndGlyphs">Show List</text>
<rect x="317.50" y="381.10" width="193.10" height="100.10" fill="#fff" rx="1" stroke="#e2e2e2" stroke-width="0.6"/>
<path d="M317.5 392.8 L317.5 382.1 Q317.5 381.1 318.5 381.1 L509.6 381.1 Q510.6 381.1 510.6 382.1 L510.6 392.8Z" fill="#cbcbcb"/>
<text x="320.30" y="389.15" font-size="5.7" fill="#555" textLength="43.50" lengthAdjust="spacingAndGlyphs">Services Wise Requests</text>
<path d="M503.50 385.60 L506.10 388.60 M506.10 385.60 L503.50 388.60" stroke="#2a2a2a" stroke-width="0.85"/>
<text x="323.30" y="403.44" font-size="5.4" fill="#222" font-weight="bold" textLength="23.60" lengthAdjust="spacingAndGlyphs" stroke="#222" stroke-width="0.18">Requests/Type</text>
<text x="393.20" y="403.44" font-size="5.4" fill="#222" font-weight="bold" textLength="8.60" lengthAdjust="spacingAndGlyphs" stroke="#222" stroke-width="0.18">Total</text>
<text x="424.40" y="403.44" font-size="5.4" fill="#222" font-weight="bold" textLength="9.00" lengthAdjust="spacingAndGlyphs" stroke="#222" stroke-width="0.18">Open</text>
<text x="456.50" y="403.44" font-size="5.4" fill="#222" font-weight="bold" textLength="11.20" lengthAdjust="spacingAndGlyphs" stroke="#222" stroke-width="0.18">Action</text>
<rect x="320.60" y="409.25" width="187.00" height="0.50" fill="#dcdcdc"/>
<text x="323.30" y="418.39" font-size="4.7" fill="#3a3a3a" textLength="16.80" lengthAdjust="spacingAndGlyphs">Registration</text>
<text x="393.60" y="418.39" font-size="4.7" fill="#3a3a3a" textLength="1.50" lengthAdjust="spacingAndGlyphs">1</text>
<text x="424.80" y="418.39" font-size="4.7" fill="#3a3a3a" textLength="1.50" lengthAdjust="spacingAndGlyphs">1</text>
<rect x="456.50" y="411.40" width="19.80" height="10.60" fill="#ff6a13" rx="0.9"/>
<text x="466.40" y="418.28" font-size="4.4" fill="#fff" text-anchor="middle" textLength="12.60" lengthAdjust="spacingAndGlyphs">Show List</text>
<rect x="320.60" y="423.55" width="187.00" height="0.50" fill="#e4e4e4"/>
<text x="323.30" y="432.69" font-size="4.7" fill="#3a3a3a" textLength="27.20" lengthAdjust="spacingAndGlyphs">My Service Request</text>
<text x="393.60" y="432.69" font-size="4.7" fill="#3a3a3a" textLength="1.50" lengthAdjust="spacingAndGlyphs">1</text>
<text x="424.80" y="432.69" font-size="4.7" fill="#3a3a3a" textLength="1.50" lengthAdjust="spacingAndGlyphs">1</text>
<rect x="456.50" y="425.70" width="19.80" height="10.60" fill="#ff6a13" rx="0.9"/>
<text x="466.40" y="432.58" font-size="4.4" fill="#fff" text-anchor="middle" textLength="12.60" lengthAdjust="spacingAndGlyphs">Show List</text>
<rect x="320.60" y="437.85" width="187.00" height="0.50" fill="#e4e4e4"/>
<text x="323.30" y="446.89" font-size="4.7" fill="#3a3a3a" textLength="27.60" lengthAdjust="spacingAndGlyphs">MDM Request Type</text>
<text x="393.60" y="446.89" font-size="4.7" fill="#3a3a3a" textLength="1.50" lengthAdjust="spacingAndGlyphs">1</text>
<text x="424.80" y="446.89" font-size="4.7" fill="#3a3a3a" textLength="1.50" lengthAdjust="spacingAndGlyphs">1</text>
<rect x="456.50" y="439.90" width="19.80" height="10.60" fill="#ff6a13" rx="0.9"/>
<text x="466.40" y="446.78" font-size="4.4" fill="#fff" text-anchor="middle" textLength="12.60" lengthAdjust="spacingAndGlyphs">Show List</text>
<rect x="320.60" y="452.05" width="187.00" height="0.50" fill="#e4e4e4"/>
<text x="323.30" y="460.99" font-size="4.7" fill="#3a3a3a" textLength="23.00" lengthAdjust="spacingAndGlyphs">YD Request Type</text>
<text x="393.60" y="460.99" font-size="4.7" fill="#3a3a3a" textLength="1.50" lengthAdjust="spacingAndGlyphs">1</text>
<text x="424.80" y="460.99" font-size="4.7" fill="#3a3a3a" textLength="1.50" lengthAdjust="spacingAndGlyphs">1</text>
<rect x="456.50" y="454.00" width="19.80" height="10.60" fill="#ff6a13" rx="0.9"/>
<text x="466.40" y="460.88" font-size="4.4" fill="#fff" text-anchor="middle" textLength="12.60" lengthAdjust="spacingAndGlyphs">Show List</text>
</g>
</g>
<g id="phone">
<rect x="734.80" y="182.00" width="169.30" height="340.60" fill="url(#phG)" rx="21.5"/>
<rect x="736.60" y="183.80" width="165.70" height="337.00" fill="#000" rx="19.8"/>
<rect x="740.6" y="187.8" width="157.5" height="329" rx="16" fill="none" stroke="#5a5a5a" stroke-width="3.6"/>
<rect x="740.7" y="187.9" width="157.3" height="328.8" rx="15.9" fill="none" stroke="#a8a8a8" stroke-width="1.7"/>
<rect x="742.60" y="189.80" width="153.50" height="325.00" fill="#000" rx="14.2"/>
<g clip-path="url(#phClip)">
<rect x="746.00" y="192.00" width="147.50" height="320.50" fill="#fff"/>
<rect x="746.00" y="192.00" width="147.50" height="30.50" fill="#999"/>
<path d="M774 191 L776.5 192 Q780.2 192.6 780.6 197 Q781.4 203.7 788.4 203.7 L850.6 203.7 Q857.6 203.7 858.4 197 Q858.8 192.6 862.5 192 L865 191Z" fill="#000"/>
<rect x="809.00" y="194.50" width="20.00" height="1.10" fill="#2a2a2a" rx="0.5"/>
<rect x="751.80" y="208.10" width="8.20" height="0.80" fill="#fff"/>
<rect x="751.80" y="210.70" width="8.20" height="0.80" fill="#fff"/>
<rect x="751.80" y="213.30" width="8.20" height="0.80" fill="#fff"/>
<text x="774.00" y="214.60" font-size="10" fill="#fff" font-weight="bold" textLength="33.40" lengthAdjust="spacingAndGlyphs">e.acácia</text>
<circle cx="887.4" cy="207.8" r="0.75" fill="#fff"/>
<circle cx="887.4" cy="210.6" r="0.75" fill="#fff"/>
<circle cx="887.4" cy="213.4" r="0.75" fill="#fff"/>
<g opacity="1"><circle cx="820.5" cy="383.7" r="30.3" fill="none" stroke="#fde1dd" stroke-width="7.4"/><path d="M841 362.4 L799.6 404.6" stroke="#fde1dd" stroke-width="7"/>
<path id="wmC" d="M800.20 354.70 A35.4 35.4 0 0 1 840.80 412.70 A35.4 35.4 0 0 1 800.20 354.70" fill="none"/>
<text font-size="6.3" fill="#fad2cc" textLength="217.4"><textPath href="#wmC" textLength="217.4" lengthAdjust="spacing">This device at risk, Don't deal ! This device at risk, Don't deal !</textPath></text></g>
<rect x="746.00" y="430.70" width="147.50" height="81.80" fill="#f5f0e4"/>
<rect x="746.00" y="430.20" width="147.50" height="0.70" fill="#e6e6e6"/>
<path d="M867.4 430.9 L882 430.9 L869.4 474.4 L854 474.4Z" fill="#a9bacd"/>
<rect x="875.60" y="436.40" width="14.80" height="15.40" fill="#fbf9f4"/>
<circle cx="883" cy="444.1" r="2.7" fill="none" stroke="#444" stroke-width="0.7"/><circle cx="883" cy="444.1" r="1.4" fill="#333"/><path d="M883 440.2 L883 441.4 M883 446.8 L883 448 M879.1 444.1 L880.3 444.1 M885.7 444.1 L886.9 444.1" stroke="#444" stroke-width="0.7"/>
<g stroke="#333" stroke-width="0.8" fill="none"><path d="M747.6 437.6 L747.6 435 L750.2 435 M747.8 435.2 L750.8 438.2"/><path d="M757.2 437.6 L757.2 435 L754.6 435 M757 435.2 L754 438.2"/><path d="M747.6 441.8 L747.6 444.4 L750.2 444.4 M747.8 444.2 L750.8 441.2"/><path d="M757.2 441.8 L757.2 444.4 L754.6 444.4 M757 444.2 L754 441.2"/></g>
<rect x="761.2" y="434.6" width="11.6" height="11.6" rx="1.6" fill="none" stroke="#333" stroke-width="0.8"/><path d="M769.6 438.8 A3 3 0 1 0 770 442" fill="none" stroke="#333" stroke-width="0.8"/><path d="M768.2 437.2 L770.6 437.4 L770.2 439.8Z" fill="#333"/>
<g><rect x="763.6999999999999" y="234.20000000000002" width="9.6" height="12" rx="0.8" stroke="#ef7d3c" stroke-width="0.95" fill="none" stroke-linejoin="round" stroke-linecap="round"/><path d="M766.5 233.4 L770.5 233.4 L770.5 235.0 L766.5 235.0Z" fill="#ef7d3c"/><path d="M765.9 242.4 L766.6999999999999 239.60000000000002 L773.9 235.20000000000002 L775.5 237.20000000000002 L768.5 241.8Z" fill="#ef7d3c" stroke="#ef7d3c" stroke-width="0.95"  stroke-linejoin="round" stroke-linecap="round"/><path d="M765.3 244.0 L771.6999999999999 244.0" stroke="#ef7d3c" stroke-width="0.95" fill="none" stroke-linejoin="round" stroke-linecap="round"/></g>
<text x="769.30" y="256.26" font-size="6" fill="#1f1f1f" text-anchor="middle" textLength="21.30" lengthAdjust="spacingAndGlyphs" stroke="#1f1f1f" stroke-width="0.22">Register</text>
<g><path d="M816.6999999999999 233.4 L823.3 233.4 L826.3 236.4 L826.3 246.0 L816.6999999999999 246.0Z" stroke="#ef7d3c" stroke-width="0.95" fill="none" stroke-linejoin="round" stroke-linecap="round"/><path d="M818.9 237.20000000000002 L824.0999999999999 237.20000000000002 M818.9 239.60000000000002 L824.0999999999999 239.60000000000002 M818.9 242.0 L824.0999999999999 242.0 M818.9 244.20000000000002 L824.0999999999999 244.20000000000002 M821.5 237.20000000000002 L821.5 244.20000000000002" stroke="#ef7d3c" stroke-width="0.95" fill="none" stroke-linejoin="round" stroke-linecap="round"/><path d="M813.9 240.20000000000002 L818.0999999999999 240.20000000000002 M816.5 238.60000000000002 L818.0999999999999 240.20000000000002 L816.5 241.8" stroke="#ef7d3c" stroke-width="0.95" fill="none" stroke-linejoin="round" stroke-linecap="round"/></g>
<text x="820.30" y="256.26" font-size="6" fill="#1f1f1f" text-anchor="middle" textLength="19.00" lengthAdjust="spacingAndGlyphs" stroke="#1f1f1f" stroke-width="0.22">Update</text>
<g><path d="M873.4000000000001 237.9 Q873.0 236.8 871.2 236.8 Q869.0 236.8 869.0 238.3 Q869.0 239.8 871.2 239.8 Q873.5 239.8 873.5 241.4 Q873.5 242.9 871.2 242.9 Q869.2 242.9 868.8000000000001 241.70000000000002 M871.2 235.4 L871.2 244.20000000000002" stroke="#ef7d3c" stroke-width="0.95" fill="none" stroke-linejoin="round" stroke-linecap="round"/><path d="M866.6 237.0 A5.4 5.4 0 0 1 875.4000000000001 236.4" stroke="#ef7d3c" stroke-width="0.95" fill="none" stroke-linejoin="round" stroke-linecap="round" stroke-dasharray="1.5 1"/><path d="M875.8000000000001 242.60000000000002 A5.4 5.4 0 0 1 867.0 243.20000000000002" stroke="#ef7d3c" stroke-width="0.95" fill="none" stroke-linejoin="round" stroke-linecap="round" stroke-dasharray="1.5 1"/><path d="M874.4000000000001 234.8 L875.8000000000001 236.8 L873.6 237.20000000000002Z M868.0 244.8 L866.6 242.8 L868.8000000000001 242.4Z" fill="#ef7d3c"/></g>
<text x="871.20" y="256.26" font-size="6" fill="#1f1f1f" text-anchor="middle" textLength="36.00" lengthAdjust="spacingAndGlyphs" stroke="#1f1f1f" stroke-width="0.22">Process Entry</text>
<g><rect x="764.9" y="273.59999999999997" width="8.8" height="10.6" rx="0.8" stroke="#ef7d3c" stroke-width="0.95" fill="none" stroke-linejoin="round" stroke-linecap="round"/><path d="M766.9 272.59999999999997 L770.9 272.59999999999997 L770.9 274.4 L766.9 274.4Z" fill="#ef7d3c"/><path d="M766.6999999999999 277.4 L771.9 277.4 M766.6999999999999 279.59999999999997 L771.9 279.59999999999997 M766.6999999999999 281.8 L771.9 281.8" stroke="#ef7d3c" stroke-width="0.95" fill="none" stroke-linejoin="round" stroke-linecap="round"/><path d="M762.6999999999999 278.2 L764.6999999999999 279.8 L764.6999999999999 276.8Z" fill="#ef7d3c"/></g>
<circle cx="775.9" cy="270" r="3.8" fill="#fff" stroke="#4a4a4a" stroke-width="0.65"/>
<text x="775.90" y="271.61" font-size="4.2" fill="#ef7d3c" font-weight="bold" text-anchor="middle">7</text>
<text x="769.30" y="293.36" font-size="6" fill="#1f1f1f" text-anchor="middle" textLength="24.40" lengthAdjust="spacingAndGlyphs" stroke="#1f1f1f" stroke-width="0.22">Incidents</text>
<g><rect x="813.9" y="273.0" width="9.6" height="11" rx="0.8" stroke="#ef7d3c" stroke-width="0.95" fill="none" stroke-linejoin="round" stroke-linecap="round"/><path d="M815.5 275.59999999999997 L821.6999999999999 275.59999999999997 M815.5 278.2 L821.6999999999999 278.2 M815.5 280.8 L819.6999999999999 280.8" stroke="#ef7d3c" stroke-width="0.95" fill="none" stroke-linejoin="round" stroke-linecap="round" stroke-width="1.3"/><circle cx="823.9" cy="281.8" r="2.9" fill="#fff" stroke="#ef7d3c" stroke-width="0.8"/><path d="M822.5 281.8 L823.5999999999999 282.9 L825.3 280.8" stroke="#ef7d3c" stroke-width="0.95" fill="none" stroke-linejoin="round" stroke-linecap="round"/></g>
<circle cx="826.6999999999999" cy="270" r="3.8" fill="#fff" stroke="#4a4a4a" stroke-width="0.65"/>
<text x="826.70" y="271.61" font-size="4.2" fill="#ef7d3c" font-weight="bold" text-anchor="middle">7</text>
<text x="820.30" y="293.36" font-size="6" fill="#1f1f1f" text-anchor="middle" textLength="15.00" lengthAdjust="spacingAndGlyphs" stroke="#1f1f1f" stroke-width="0.22">Tasks</text>
<g><path d="M865.8000000000001 270.6 L876.6 270.6 L877.8000000000001 274.40000000000003 L864.6 274.40000000000003Z" stroke="#ef7d3c" stroke-width="0.95" fill="none" stroke-linejoin="round" stroke-linecap="round"/><path d="M864.6 274.40000000000003 Q866.2 277.2 867.9000000000001 274.40000000000003 Q869.6 277.2 871.2 274.40000000000003 Q872.8000000000001 277.2 874.5 274.40000000000003 Q876.2 277.2 877.8000000000001 274.40000000000003" fill="#ef7d3c" stroke="#ef7d3c" stroke-width="0.95"  stroke-linejoin="round" stroke-linecap="round"/><path d="M865.6 276.2 L865.6 281.8 L876.8000000000001 281.8 L876.8000000000001 276.2 M864.6 283.40000000000003 L877.8000000000001 283.40000000000003 M867.4000000000001 277.8 L875.0 277.8 L875.0 280.2 L867.4000000000001 280.2Z" stroke="#ef7d3c" stroke-width="0.95" fill="none" stroke-linejoin="round" stroke-linecap="round"/></g>
<text x="871.20" y="293.36" font-size="6" fill="#1f1f1f" text-anchor="middle" textLength="25.20" lengthAdjust="spacingAndGlyphs" stroke="#1f1f1f" stroke-width="0.22">Sales Tax</text>
<g><path d="M762.6999999999999 308.6 L775.9 308.6" stroke="#ef7d3c" stroke-width="0.95" fill="none" stroke-linejoin="round" stroke-linecap="round"/><ellipse cx="771.9" cy="308.6" rx="1.5" ry="1.2" fill="#fff" stroke="#ef7d3c" stroke-width="0.8"/><path d="M762.6999999999999 313.8 L775.9 313.8" stroke="#ef7d3c" stroke-width="0.95" fill="none" stroke-linejoin="round" stroke-linecap="round"/><ellipse cx="766.5" cy="313.8" rx="1.5" ry="1.2" fill="#fff" stroke="#ef7d3c" stroke-width="0.8"/><path d="M762.6999999999999 319.0 L775.9 319.0" stroke="#ef7d3c" stroke-width="0.95" fill="none" stroke-linejoin="round" stroke-linecap="round"/><ellipse cx="771.9" cy="319.0" rx="1.5" ry="1.2" fill="#fff" stroke="#ef7d3c" stroke-width="0.8"/></g>
<text x="769.30" y="330.36" font-size="6" fill="#1f1f1f" text-anchor="middle" textLength="15.00" lengthAdjust="spacingAndGlyphs" stroke="#1f1f1f" stroke-width="0.22">Stock</text>
<text x="769.30" y="337.46" font-size="6" fill="#1f1f1f" text-anchor="middle" textLength="34.60" lengthAdjust="spacingAndGlyphs" stroke="#1f1f1f" stroke-width="0.22">Management</text>
<g><path d="M813.9 312.6 L818.5 307.40000000000003 L823.0999999999999 312.6 M815.3 311.2 L815.3 316.2 M821.6999999999999 311.2 L821.6999999999999 314.8" stroke="#ef7d3c" stroke-width="0.95" fill="none" stroke-linejoin="round" stroke-linecap="round"/><path d="M817.6999999999999 315.40000000000003 L817.6999999999999 311.0 L819.3 311.0 L819.3 315.40000000000003" stroke="#ef7d3c" stroke-width="0.95" fill="none" stroke-linejoin="round" stroke-linecap="round"/><circle cx="824.3" cy="314.2" r="2.8" stroke="#ef7d3c" stroke-width="0.95" fill="none" stroke-linejoin="round" stroke-linecap="round"/><rect x="813.9" y="316.6" width="4" height="3.6" stroke="#ef7d3c" stroke-width="0.95" fill="none" stroke-linejoin="round" stroke-linecap="round"/><path d="M817.9 317.2 L822.9 317.2 L826.5 316.0 L826.9 317.2 L822.3 320.0 L817.9 320.0" stroke="#ef7d3c" stroke-width="0.95" fill="none" stroke-linejoin="round" stroke-linecap="round"/></g>
<text x="820.30" y="330.36" font-size="6" fill="#1f1f1f" text-anchor="middle" textLength="15.00" lengthAdjust="spacingAndGlyphs" stroke="#1f1f1f" stroke-width="0.22">Asset</text>
<g><path d="M871.2 307.40000000000003 L877.6 311.2 L877.6 316.0 L871.2 320.0 L864.8000000000001 316.0 L864.8000000000001 311.2Z M864.8000000000001 311.2 L871.2 315.0 L877.6 311.2 M871.2 315.0 L871.2 320.0" stroke="#ef7d3c" stroke-width="0.95" fill="none" stroke-linejoin="round" stroke-linecap="round"/><circle cx="868.6" cy="311.2" r="1.3" stroke="#ef7d3c" stroke-width="0.95" fill="none" stroke-linejoin="round" stroke-linecap="round"/><circle cx="873.8000000000001" cy="311.2" r="1.3" stroke="#ef7d3c" stroke-width="0.95" fill="none" stroke-linejoin="round" stroke-linecap="round"/><circle cx="871.2" cy="309.40000000000003" r="1.2" stroke="#ef7d3c" stroke-width="0.95" fill="none" stroke-linejoin="round" stroke-linecap="round"/><circle cx="868.2" cy="316.0" r="1" stroke="#ef7d3c" stroke-width="0.95" fill="none" stroke-linejoin="round" stroke-linecap="round"/><circle cx="874.2" cy="316.0" r="1" stroke="#ef7d3c" stroke-width="0.95" fill="none" stroke-linejoin="round" stroke-linecap="round"/></g>
<text x="871.50" y="330.36" font-size="6" fill="#1f1f1f" text-anchor="middle" textLength="42.50" lengthAdjust="spacingAndGlyphs" stroke="#1f1f1f" stroke-width="0.22">Service Request</text>
<g><path d="M766.5 361.6 L763.9 361.6 L763.9 351.6 L770.6999999999999 351.6 L770.6999999999999 353.4" stroke="#ef7d3c" stroke-width="0.95" fill="none" stroke-linejoin="round" stroke-linecap="round"/><rect x="766.5" y="353.6" width="8.2" height="11" rx="0.6" fill="#ef7d3c"/><path d="M768.3 356.4 L773.0999999999999 356.4 M768.3 358.6 L773.0999999999999 358.6 M768.3 360.8 L773.0999999999999 360.8 M768.3 362.8 L773.0999999999999 362.8" stroke="#fbd6bf" stroke-width="0.6"/></g>
<text x="769.30" y="374.76" font-size="6" fill="#1f1f1f" text-anchor="middle" textLength="31.60" lengthAdjust="spacingAndGlyphs" stroke="#1f1f1f" stroke-width="0.22">Law Tickets</text>
<g><path d="M817.5 361.6 L814.9 361.6 L814.9 351.6 L821.6999999999999 351.6 L821.6999999999999 353.4" stroke="#ef7d3c" stroke-width="0.95" fill="none" stroke-linejoin="round" stroke-linecap="round"/><rect x="817.5" y="353.6" width="8.2" height="11" rx="0.6" fill="#ef7d3c"/><path d="M819.3 356.4 L824.0999999999999 356.4 M819.3 358.6 L824.0999999999999 358.6 M819.3 360.8 L824.0999999999999 360.8 M819.3 362.8 L824.0999999999999 362.8" stroke="#fbd6bf" stroke-width="0.6"/></g>
<text x="820.30" y="374.76" font-size="6" fill="#1f1f1f" text-anchor="middle" textLength="43.20" lengthAdjust="spacingAndGlyphs" stroke="#1f1f1f" stroke-width="0.22">Edit Law Tickets</text>
<g><circle cx="873.6" cy="356.6" r="3.6" stroke="#ef7d3c" stroke-width="0.95" fill="none" stroke-linejoin="round" stroke-linecap="round"/><path d="M870.0 356.6 L877.2 356.6 M873.6 353 L873.6 360.2" stroke="#ef7d3c" stroke-width="0.95" fill="none" stroke-linejoin="round" stroke-linecap="round"/><path d="M865.6 351.8 L868.2 351.8 L868.2 354.8 L865.6 354.8Z" stroke="#ef7d3c" stroke-width="0.95" fill="none" stroke-linejoin="round" stroke-linecap="round"/><path d="M864.8000000000001 359.6 L866.6 359.6 L866.6 364.4 L864.8000000000001 364.4Z M866.6 360.4 L869.8000000000001 360 L872.4000000000001 361.2 L877.2 359.6 L877.8000000000001 360.8 L872.2 364.2 L866.6 363.6" stroke="#ef7d3c" stroke-width="0.95" fill="none" stroke-linejoin="round" stroke-linecap="round"/></g>
<text x="871.50" y="374.76" font-size="6" fill="#1f1f1f" text-anchor="middle" textLength="42.20" lengthAdjust="spacingAndGlyphs" stroke="#1f1f1f" stroke-width="0.22">Impound Return</text>
<g><path d="M762.9 393.0 L770.6999999999999 393.0 M773.9 394.40000000000003 L773.9 400.6 L762.9 400.6 L762.9 393.0" stroke="#ef7d3c" stroke-width="0.95" fill="none" stroke-linejoin="round" stroke-linecap="round" stroke-width="1"/><rect x="762.9" y="396.2" width="11" height="2.4" fill="#ef7d3c"/><path d="M767.0999999999999 393.2 L771.5 388.8 L775.9 389.6 L775.5 392.2 L770.6999999999999 396.0 L768.5 395.40000000000003Z" fill="#fff" stroke="#ef7d3c" stroke-width="1" stroke-linejoin="round"/></g>
<text x="769.30" y="411.36" font-size="6" fill="#1f1f1f" text-anchor="middle" textLength="23.00" lengthAdjust="spacingAndGlyphs" stroke="#1f1f1f" stroke-width="0.22">Track On</text>
<text x="769.30" y="418.56" font-size="6" fill="#1f1f1f" text-anchor="middle" textLength="23.00" lengthAdjust="spacingAndGlyphs" stroke="#1f1f1f" stroke-width="0.22">Payment</text>
</g>
</g>
</svg>
</body></html>
